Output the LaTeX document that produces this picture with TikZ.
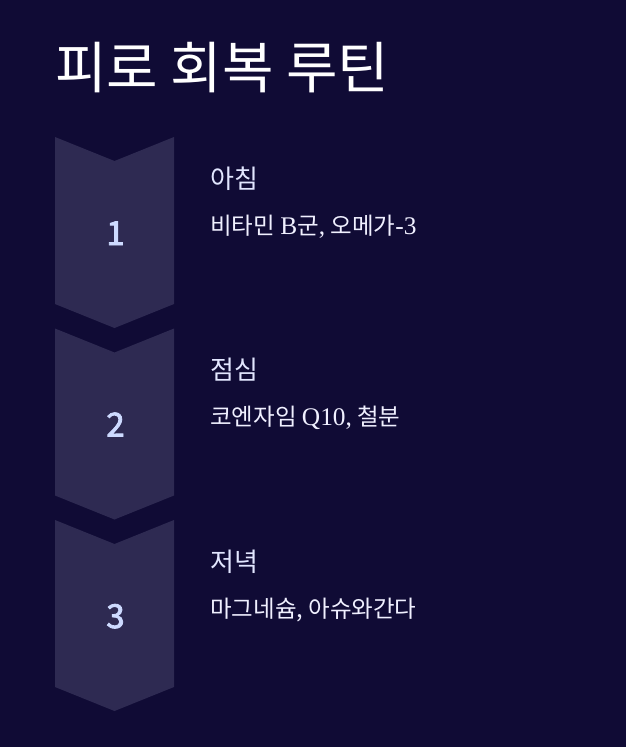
\documentclass[tikz,border=0pt]{standalone}
\usepackage{fontspec}
\setmainfont{Noto Sans CJK KR}
\newfontfamily\latinserif{Liberation Serif}[Scale=1.08]
\newfontfamily\numfont{Noto Sans CJK KR}[FakeBold=2.5]
\definecolor{bgc}{RGB}{16,11,53}
\definecolor{chev}{RGB}{46,42,82}
\definecolor{numc}{RGB}{205,218,255}
\definecolor{headc}{RGB}{226,230,255}
\definecolor{descc}{RGB}{240,240,255}
\tikzset{
  chevron/.style={fill=chev, draw=none},
  numtext/.style={font=\numfont\fontsize{33}{37}\selectfont, text=numc, anchor=base, inner sep=0pt},
  headtext/.style={font=\fontsize{26}{30}\selectfont, text=headc, anchor=base west, inner sep=0pt},
  desctext/.style={font=\fontsize{23.5}{27}\selectfont, text=descc, anchor=base west, inner sep=0pt},
  titletext/.style={font=\fontsize{56}{64}\selectfont, text=white, anchor=base west, inner sep=0pt}
}
\begin{document}
\begin{tikzpicture}[x=1pt,y=-1pt]
\fill[bgc] (0,0) rectangle (626,747);
\useasboundingbox (0,0) rectangle (626,747);
\node[titletext] (title) at (55,88) {피로 회복 루틴};
\foreach \i/\yo in {1/0,2/191.5,3/383}{
  \fill[chevron] (55,137+\yo) -- (114.5,161+\yo) -- (174,137+\yo) -- (174,304+\yo) -- (114.5,328+\yo) -- (55,304+\yo) -- cycle;
}
\node[numtext] (n1) at (115.5,245) {1};
\node[numtext] (n2) at (115.5,436.5) {2};
\node[numtext] (n3) at (115.5,628) {3};
\node[headtext] (h1) at (210,188) {아침};
\node[headtext] (h2) at (210,379.5) {점심};
\node[headtext] (h3) at (210,571) {저녁};
\node[desctext] (d1) at (210,234) {비타민 {\latinserif B}군{\latinserif ,} 오메가{\latinserif -3}};
\node[desctext] (d2) at (210,425.5) {코엔자임 {\latinserif Q10,} 철분};
\node[desctext] (d3) at (210,617) {마그네슘, 아슈와간다};
\end{tikzpicture}
\end{document}
